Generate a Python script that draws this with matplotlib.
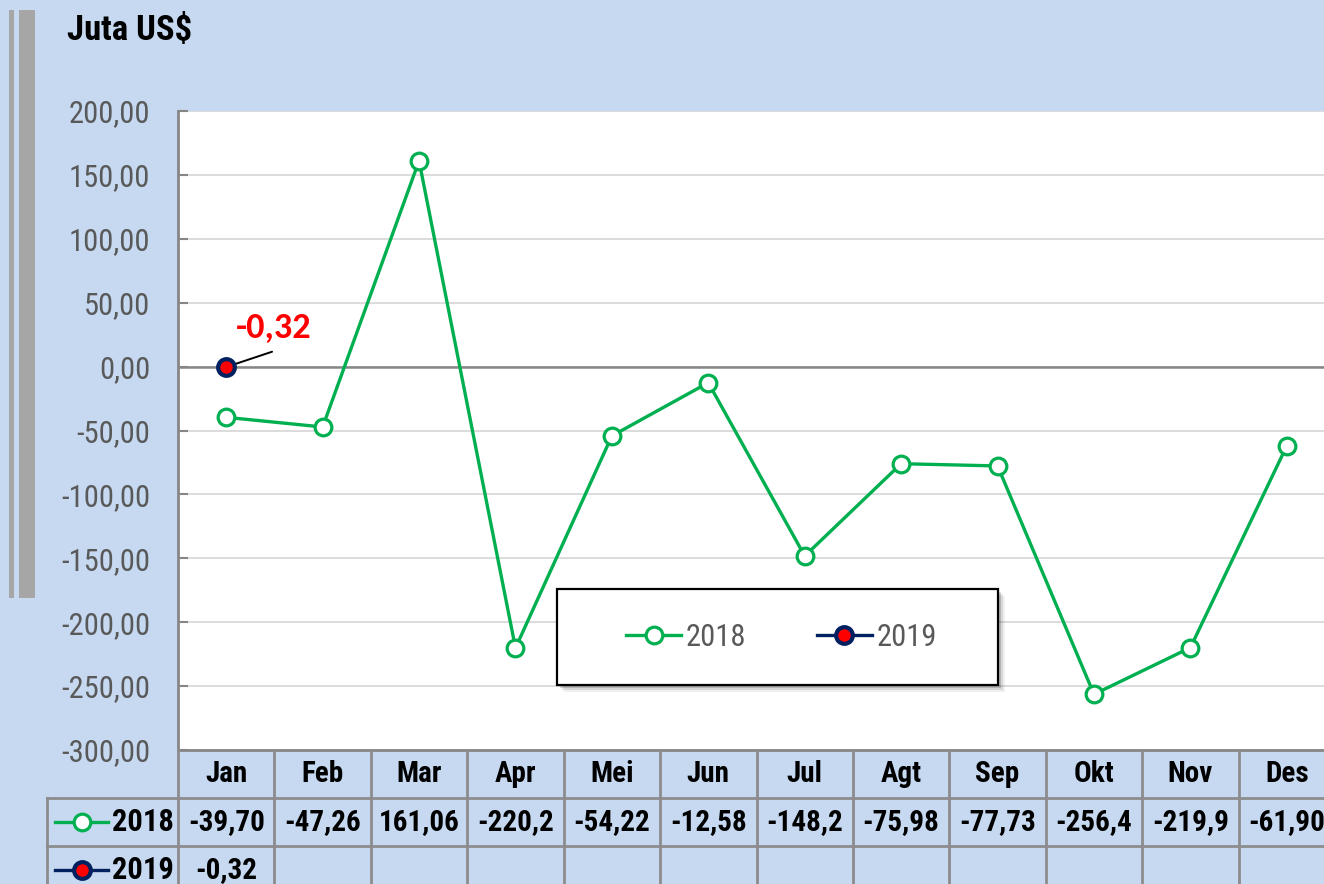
import matplotlib
matplotlib.use("Agg")
import matplotlib.pyplot as plt
import numpy as np
from matplotlib.lines import Line2D
from matplotlib.patches import Rectangle

# ---- data ---------------------------------------------------------------
months = ["Jan", "Feb", "Mar", "Apr", "Mei", "Jun", "Jul", "Agt", "Sep", "Okt", "Nov", "Des"]
v2018 = [-39.70, -47.26, 161.06, -220.2, -54.22, -12.58, -148.2, -75.98, -77.73, -256.4, -219.9, -61.90]
v2019 = [-0.32]
lab2018 = ["-39,70", "-47,26", "161,06", "-220,2", "-54,22", "-12,58", "-148,2", "-75,98",
           "-77,73", "-256,4", "-219,9", "-61,90"]
lab2019 = ["-0,32"]
series = ["2018", "2019"]

# ---- style ---------------------------------------------------------------
BG = "#C6D9F1"; GREEN = "#00B050"; NAVY = "#002060"; RED = "#FF0000"
GRAY = "#595959"; LINE = "#868686"
plt.rcParams["font.family"] = ["Roboto Condensed", "DejaVu Sans"]

W, H = 1324, 884
fig = plt.figure(figsize=(W / 100, H / 100), dpi=100, facecolor=BG)

# decorative grey bars on the left
fig.add_artist(Rectangle((9 / W, 1 - 598 / H), 5 / W, 588 / H, transform=fig.transFigure,
                         color="#A6A6A6", lw=0))
fig.add_artist(Rectangle((19 / W, 1 - 598 / H), 16 / W, 588 / H, transform=fig.transFigure,
                         color="#A6A6A6", lw=0))
fig.text(67 / W, 1 - 31 / H, "Juta US$", fontsize=25, fontweight="bold", color="black",
         ha="left", va="center")

# ---- main axes -------------------------------------------------------------
colw = 96.42
ax = fig.add_axes([178 / W, (H - 750) / H, 12 * colw / W, 639 / H])
ax.set_facecolor("white")
x = np.arange(len(months))
ax.set_xlim(-0.5, 11.5); ax.set_ylim(-300, 200)
ax.set_yticks(np.arange(-300, 201, 50))
ax.yaxis.set_major_formatter(lambda v, p: f"{v:.2f}".replace(".", ","))
ax.yaxis.grid(True, color="#D9D9D9", lw=1.3, zorder=0)
ax.set_axisbelow(True)
ax.tick_params(axis="y", direction="in", length=7, width=1.5, color=LINE, pad=20,
               labelsize=22, labelcolor=GRAY)
ax.tick_params(axis="x", bottom=False, labelbottom=False)
for s in ["top", "right"]:
    ax.spines[s].set_visible(False)
ax.spines["left"].set_color(LINE); ax.spines["left"].set_linewidth(2)
ax.spines["bottom"].set_color(LINE); ax.spines["bottom"].set_linewidth(2)
ax.axhline(0, color=LINE, lw=1.8, zorder=1)

MS = 12
ax.plot(x, v2018, color=GREEN, lw=2.4, marker="o", ms=MS, mfc="white", mec=GREEN, mew=2.3, zorder=3)
ax.plot(x[:len(v2019)], v2019, color=NAVY, lw=2.4, marker="o", ms=MS, mfc=RED, mec=NAVY, mew=3, zorder=4)

ax.annotate("", xy=(0, v2019[0]), xytext=(33, 11), textcoords="offset points",
            arrowprops=dict(arrowstyle="-", color="black", lw=1.4, shrinkA=0, shrinkB=0))
ax.annotate(lab2019[0], xy=(0, v2019[0]), xytext=(34, 21), textcoords="offset points",
            ha="center", va="baseline", fontsize=26, fontweight="bold", color=RED,
            family=["Carlito", "DejaVu Sans"])

# legend box with shadow
bx, by, bw, bh = 557, 589, 441, 96
for dx, a in [(7, 0.06), (5, 0.10), (3, 0.16)]:
    fig.add_artist(Rectangle(((bx + dx) / W, 1 - (by + bh + dx) / H), bw / W, bh / H,
                             transform=fig.transFigure, color="black", alpha=a, lw=0, zorder=5))
fig.add_artist(Rectangle((bx / W, 1 - (by + bh) / H), bw / W, bh / H, transform=fig.transFigure,
                         facecolor="white", edgecolor="black", lw=1.6, zorder=6))
handles = [Line2D([], [], color=GREEN, lw=2.4, marker="o", ms=MS, mfc="white", mec=GREEN, mew=2.3),
           Line2D([], [], color=NAVY, lw=2.4, marker="o", ms=MS, mfc=RED, mec=NAVY, mew=3)]
leg = fig.legend(handles, series, loc="center", bbox_to_anchor=((bx + bw / 2 + 4) / W, 1 - (by + bh / 2) / H),
                 ncol=2, frameon=False, fontsize=22, labelcolor=GRAY, handlelength=1.8,
                 handletextpad=0.15, columnspacing=2.3)
leg.set_zorder(7)

# ---- data table ------------------------------------------------------------
left_px = 47
tax = fig.add_axes([left_px / W, (H - 894) / H, (178 + 12 * colw - left_px) / W, 144 / H])
tax.set_xlim(-0.5 - (178 - left_px) / colw, 11.5); tax.set_ylim(3, 0)
tax.axis("off"); tax.patch.set_alpha(0)
x0 = -0.5 - (178 - left_px) / colw
kw = dict(color="#8C8C8C", lw=2, clip_on=False)
for k in range(13):
    tax.plot([k - 0.5, k - 0.5], [0, 3], **kw)
tax.plot([x0, x0], [1, 3], **kw)
for r in [1, 2]:
    tax.plot([x0, 11.5], [r, r], **kw)
tfont = dict(fontsize=21, fontweight="bold", color="black", ha="center", va="center")
for i, m in enumerate(months):
    tax.text(i, 0.5, m, **tfont)
for i, t in enumerate(lab2018):
    tax.text(i, 1.5, t, **tfont)
for i, t in enumerate(lab2019):
    tax.text(i, 2.5, t, **tfont)
# row labels with legend keys
px = lambda p: x0 + (p - left_px) / colw
for r, h, name in [(1.5, handles[0], series[0]), (2.5, handles[1], series[1])]:
    tax.plot([px(55), px(108)], [r, r], color=h.get_color(), lw=2.4, clip_on=False)
    tax.plot([px(82)], [r], marker="o", ms=MS, mfc=h.get_markerfacecolor(),
             mec=h.get_markeredgecolor(), mew=h.get_markeredgewidth(), clip_on=False)
    tax.text(px(112), r, name, fontsize=22, fontweight="bold", color="black", ha="left", va="center")

fig.savefig("out.png", dpi=100, facecolor=BG)
